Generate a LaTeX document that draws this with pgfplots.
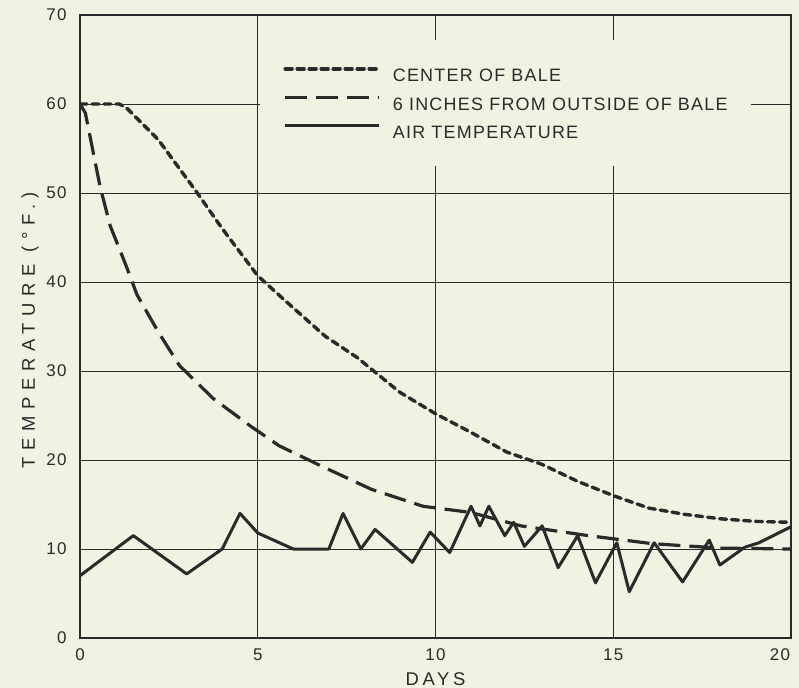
\documentclass[border=0pt]{standalone}
\usepackage{fontspec}
\setmainfont{Liberation Sans}[LetterSpace=7]
\newfontfamily\ylabfont{Liberation Sans}[LetterSpace=36]
\newfontfamily\xlabfont{Liberation Sans}[LetterSpace=20]
\usepackage{pgfplots}
\pgfplotsset{compat=1.18}
\definecolor{paper}{RGB}{241,242,226}
\definecolor{ink}{RGB}{42,42,42}
\begin{document}
\begin{tikzpicture}
\useasboundingbox (-80bp,-50bp) rectangle (719bp,638bp);
\fill[paper] (-80bp,-50bp) rectangle (719bp,638bp);
\begin{axis}[
  scale only axis, width=711bp, height=623bp,
  xmin=0, xmax=20, ymin=0, ymax=70,
  xtick={0,5,...,20}, ytick={0,10,...,70},
  xticklabels={0,5,10,15,\hspace*{-22bp}20},
  grid=major, major grid style={ink, line width=0.9bp},
  axis line style={ink, line width=1.2bp},
  major tick length=0pt,
  /pgf/number format/assume math mode=true,
  tick label style={font=\fontsize{17}{20}\selectfont, text=ink},
  yticklabel style={xshift=-10bp},
  xticklabel style={yshift=-7bp},
  xlabel={\xlabfont DAYS}, ylabel={\ylabfont TEMPERATURE (°F.)},
  label style={font=\fontsize{18.5}{21}\selectfont, text=ink},
  xlabel style={at={(axis description cs:0.5,-0.066)}, anchor=center},
  ylabel style={at={(axis description cs:-0.070,0.494)}, anchor=center},
  legend cell align=left,
  legend style={at={(axis cs:5.07,67.2)}, anchor=north west, fill=paper, draw=none,
    inner xsep=23bp, inner ysep=27bp, row sep=14bp, column sep=12bp,
    font=\fontsize{18}{21}\selectfont, text=ink,
    nodes={inner sep=0pt, text height=13bp, text depth=0bp}},
  legend image code/.code={\draw[#1] (0bp,6.5bp) -- (94bp,6.5bp);},
]
\addplot[ink, line width=3.4bp, dash pattern=on 7bp off 5bp, line cap=round] coordinates {
(0,60) (1.1,60) (1.3,59.6) (2.2,56) (3.3,50) (4,46) (5,40.7) (5.8,37.8) (6.9,33.9)
(7.8,31.5) (9,27.6) (10,25.2) (11,23.1) (12,20.9) (13,19.5) (14,17.6) (15,16)
(16,14.6) (17,13.9) (18,13.4) (19,13.1) (20,13)
};
\addlegendentry{CENTER OF BALE}
\addplot[ink, line width=3.2bp, dash pattern=on 22bp off 9bp] coordinates {
(0,60) (0.15,59) (0.3,56) (0.56,50.8) (0.85,46.3) (1.3,41.8) (1.6,38.6) (2.2,34.4)
(2.8,30.6) (3.75,26.9) (4.8,23.8) (5.6,21.6) (6.8,19.3) (8.2,16.7) (9.65,14.8)
(11,14.1) (12.4,12.6) (14.3,11.5) (16.1,10.6) (18,10.1) (20,10)
};
\addlegendentry{6 INCHES FROM OUTSIDE OF BALE}
\addplot[ink, line width=3bp, line join=round] coordinates {
(0,7) (1.5,11.5) (3,7.2) (4,10) (4.5,14) (5,11.8) (6,10) (7,10) (7.4,14) (7.9,10)
(8.3,12.2) (9.35,8.5) (9.85,11.9) (10.4,9.6) (11,14.8) (11.25,12.6) (11.5,14.8)
(11.95,11.5) (12.2,13) (12.5,10.3) (13,12.6) (13.45,7.9) (14,11.5) (14.5,6.2)
(15.1,10.7) (15.45,5.2) (16.15,10.7) (16.95,6.3) (17.7,11) (18,8.2) (18.7,10.2)
(19.1,10.7) (20,12.5)
};
\addlegendentry{AIR TEMPERATURE}
\end{axis}
\end{tikzpicture}
\end{document}
